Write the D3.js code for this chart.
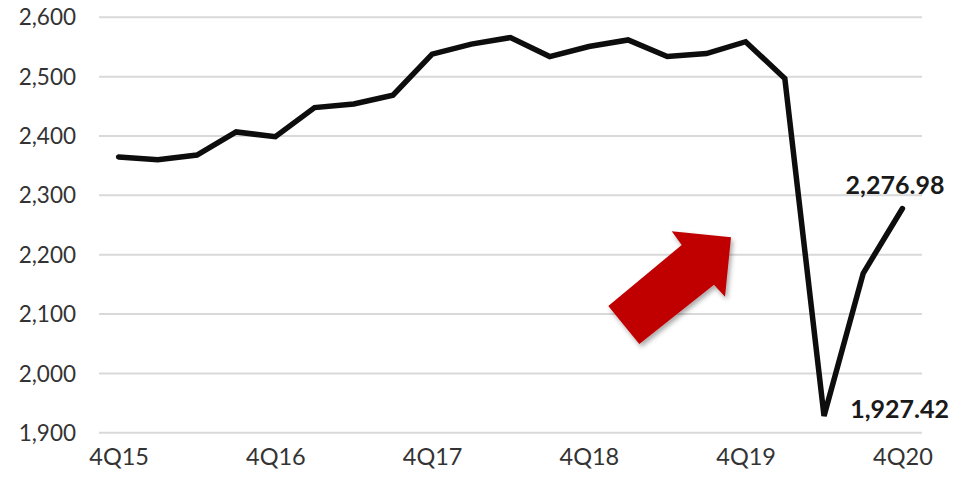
<!DOCTYPE html>
<html>
<head>
<meta charset="utf-8">
<script src="https://cdn.jsdelivr.net/npm/d3@7"></script>
<style>
  html, body { margin: 0; padding: 0; background: #fff; }
  svg { display: block; }
</style>
</head>
<body>
<div class="chart-container"></div>
<script>
//! DATA
const quarters = [
  '4Q15', '1Q16', '2Q16', '3Q16', '4Q16', '1Q17', '2Q17', '3Q17', '4Q17',
  '1Q18', '2Q18', '3Q18', '4Q18', '1Q19', '2Q19', '3Q19', '4Q19',
  '1Q20', '2Q20', '3Q20', '4Q20'
]
const values = [
  2364, 2359, 2367, 2406, 2398, 2447, 2453, 2468, 2537,
  2554, 2565, 2533, 2550, 2561, 2533, 2538, 2558,
  2496, 1927.42, 2168, 2276.98
]
const yTicks = [1900, 2000, 2100, 2200, 2300, 2400, 2500, 2600]
const xTickLabels = ['4Q15', '4Q16', '4Q17', '4Q18', '4Q19', '4Q20']
const callouts = [
  { q: '4Q20', value: 2276.98, dx: 42, dy: -15 },
  { q: '2Q20', value: 1927.42, dx: 125, dy: 2 }
]

//! CONSTS
const WIDTH = 955
const HEIGHT = 479
const LEFT = 99
const RIGHT = 922
const TOP = 16.8
const BOTTOM = 432.3

//! SVG
const svg = d3.select('.chart-container')
  .append('svg')
  .attr('width', WIDTH)
  .attr('height', HEIGHT)

const defs = svg.append('defs')
const shadow = defs.append('filter')
  .attr('id', 'shadow')
  .attr('x', '-20%').attr('y', '-20%')
  .attr('width', '150%').attr('height', '150%')
shadow.append('feDropShadow')
  .attr('dx', 2).attr('dy', 3)
  .attr('stdDeviation', 2.5)
  .attr('flood-color', '#000')
  .attr('flood-opacity', 0.35)

//! SCALES
const xScale = d3.scalePoint()
  .domain(quarters)
  .range([LEFT, RIGHT])
  .padding(0.5)

const yScale = d3.scaleLinear()
  .domain([1900, 2600])
  .range([BOTTOM, TOP])

//! GRID + Y AXIS
const yAxis = d3.axisLeft(yScale)
  .tickValues(yTicks)
  .tickSize(-(RIGHT - LEFT))
  .tickPadding(23)
  .tickFormat(d3.format(','))

svg.append('g')
  .attr('transform', `translate(${LEFT},0)`)
  .call(yAxis)
  .call(g => g.select('.domain').remove())
  .call(g => g.selectAll('.tick line')
    .attr('stroke', '#d9d9d9')
    .attr('stroke-width', 2))
  .call(g => g.selectAll('.tick text')
    .attr('fill', '#333')
    .attr('font-family', 'Lato, sans-serif')
    .attr('font-size', 22.5)
    .attr('dy', '0.36em'))

//! X AXIS
const xAxis = d3.axisBottom(xScale)
  .tickValues(xTickLabels)
  .tickSize(0)
  .tickPadding(24)

svg.append('g')
  .attr('transform', `translate(0,${BOTTOM})`)
  .call(xAxis)
  .call(g => g.select('.domain').remove())
  .call(g => g.selectAll('.tick text')
    .attr('fill', '#333')
    .attr('font-family', 'Lato, sans-serif')
    .attr('font-size', 23.5)
    .attr('dy', '0.38em'))

//! ARROW (annotation)
const arrowPts = [
  [608.3, 306], [639.3, 344], [714, 284.7], [725, 296.7],
  [731, 237.3], [671.7, 231.3], [681.7, 245]
]
svg.append('path')
  .attr('d', d3.line()(arrowPts) + 'Z')
  .attr('fill', '#c00000')
  .attr('filter', 'url(#shadow)')

//! LINE
const line = d3.line()
  .x((d, i) => xScale(quarters[i]))
  .y(d => yScale(d))

svg.append('path')
  .datum(values)
  .attr('d', line)
  .attr('fill', 'none')
  .attr('stroke', '#0d0d0d')
  .attr('stroke-width', 5.5)
  .attr('stroke-linecap', 'round')
  .attr('stroke-linejoin', 'miter')

//! CALLOUTS
svg.selectAll('.callout')
  .data(callouts)
  .enter()
  .append('text')
  .attr('class', 'callout')
  .attr('x', d => xScale(d.q) + d.dx)
  .attr('y', d => yScale(d.value) + d.dy)
  .attr('text-anchor', 'end')
  .attr('font-family', 'Lato, sans-serif')
  .attr('font-weight', 'bold')
  .attr('font-size', 25)
  .attr('fill', '#1a1a1a')
  .text(d => d3.format(',.2f')(d.value))
</script>
</body>
</html>
